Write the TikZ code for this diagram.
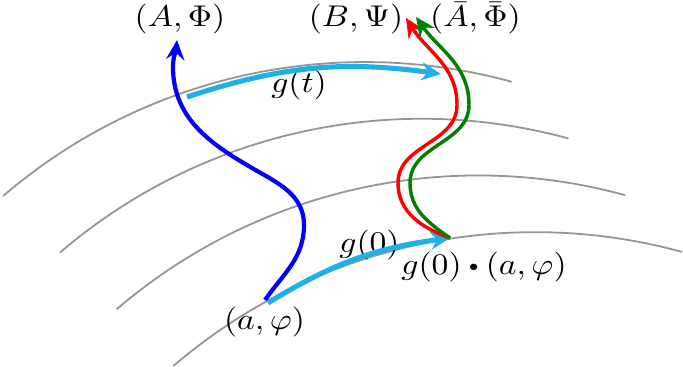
\documentclass[tikz,border=0pt]{standalone}
\usetikzlibrary{arrows.meta}
\definecolor{arcgray}{RGB}{150,150,150}
\definecolor{skyc}{RGB}{30,176,230}
\definecolor{dgreen}{RGB}{0,128,0}
\def\u{0.3333pt}
\newcommand{\wide}[1]{\scalebox{1.12}[1]{#1}}
\newcommand{\smalldot}{\mathbin{\vcenter{\hbox{\scalebox{0.55}{$\bullet$}}}}}
\tikzset{
  arcline/.style={draw=arcgray, line width=0.6pt},
  tip/.style={-{Stealth[length=6.5pt,width=6pt,inset=2.2pt]}},
  bluepath/.style={tip, draw=blue, line width=1.4pt},
  cyanpath/.style={tip, draw=skyc, line width=1.7pt},
  redpath/.style={tip, draw=red, line width=1.15pt},
  greenpath/.style={tip, draw=dgreen, line width=1.15pt},
  lbl/.style={anchor=base, inner sep=0pt, font=\fontsize{10}{12}\selectfont}
}
\begin{document}
\begin{tikzpicture}[x=\u, y=\u]
\useasboundingbox (0,0) rectangle (683,367);
% gray level arcs
\foreach \k in {0,1,2,3}{
  \coordinate (c\k) at ({365+56.7*\k},{-251-56.7*\k});
  \draw[arcline] (c\k) ++(130.6:185.3pt) arc[start angle=130.6, end angle=74.7, radius=185.3pt];
}
% key points
\coordinate (p) at (265,67);
\coordinate (pc) at (268,64);
\coordinate (q) at (450,129);
\coordinate (ts) at (187,270);
\coordinate (te) at (441,293);
\coordinate (tA) at (177,327);
\coordinate (tB) at (406,349);
\coordinate (tAb) at (416,350);
% labels
\node[lbl] (AP) at (180,340) {\wide{$(A,\Phi)$}};
\node[lbl] (BP) at (356,340) {\wide{$(B,\Psi)$}};
\node[lbl] (AbP) at (475.5,340) {\wide{$(\bar A,\bar\Phi)$}};
\node[lbl] (ap) at (264.5,37) {\wide{$(a,\varphi)$}};
\node[lbl] (gap) at (484,92) {\wide{$g(0)\smalldot(a,\varphi)$}};
\node[lbl] (g0) at (369.5,114) {\wide{$g(0)$}};
\node[lbl] (gt) at (299,274) {\wide{$g(t)$}};
% blue path
\draw[bluepath] (p) to[out=55,in=-90] (304,142) to[out=90,in=-30] (252,199)
  to[out=150,in=-90] (173,300) to[out=90,in=-95] (tA);
% cyan arrows
\draw[cyanpath] (pc) to[bend left=12] (q);
\draw[cyanpath] (ts) to[bend left=13] (te);
% red path
\draw[redpath] (q) to[out=160,in=-90] (398,184) to[out=90,in=-90] (457,262)
  to[out=90,in=-58] (tB);
% green path
\draw[greenpath] (q) to[out=145,in=-90] (410,184) to[out=90,in=-90] (469,262)
  to[out=90,in=-55] (tAb);
\end{tikzpicture}
\end{document}
